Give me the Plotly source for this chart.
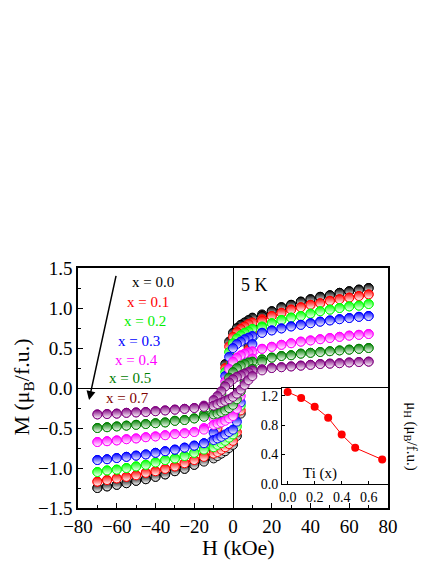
import plotly.graph_objects as go

# ---------------- data ----------------
H_down = [70, 65, 60, 55, 50, 45, 40, 35, 30, 25, 20, 15, 10, 8, 6, 4, 2, 0, -2, -4, -6, -8, -10,
          -15, -20, -25, -30, -35, -40, -45, -50, -55, -60, -65, -70]
H_up = [-70, -65, -60, -55, -50, -45, -40, -35, -30, -25, -20, -15, -10, -8, -6, -4, -2, 0, 2, 4, 6, 8, 10,
        15, 20, 25, 30, 35, 40, 45, 50, 55, 60, 65, 70]

labels = ["x = 0.0", "x = 0.1", "x = 0.2", "x = 0.3", "x = 0.4", "x = 0.5", "x = 0.7"]

M00_down = [1.25, 1.23, 1.21, 1.19, 1.16, 1.14, 1.11, 1.08, 1.04, 1.01, 0.96, 0.92, 0.88,
            0.85, 0.82, 0.79, 0.75, 0.69, 0.58, 0.30, -0.15, -0.55, -0.78,
            -0.90, -0.96, -1.01, -1.04, -1.08, -1.11, -1.14, -1.16, -1.19, -1.21, -1.23, -1.25]
M00_up = [-1.25, -1.23, -1.21, -1.19, -1.16, -1.14, -1.11, -1.08, -1.04, -1.01, -0.96, -0.92, -0.88,
          -0.85, -0.82, -0.79, -0.75, -0.71, -0.60, -0.32, 0.12, 0.52, 0.76,
          0.90, 0.96, 1.01, 1.04, 1.08, 1.11, 1.14, 1.16, 1.19, 1.21, 1.23, 1.25]

M01_down = [1.17, 1.15, 1.13, 1.11, 1.09, 1.06, 1.04, 1.01, 0.98, 0.94, 0.90, 0.86, 0.82,
            0.80, 0.77, 0.74, 0.70, 0.64, 0.52, 0.25, -0.15, -0.50, -0.72,
            -0.84, -0.90, -0.94, -0.98, -1.01, -1.04, -1.06, -1.09, -1.11, -1.13, -1.15, -1.17]
M01_up = [-1.17, -1.15, -1.13, -1.11, -1.09, -1.06, -1.04, -1.01, -0.98, -0.94, -0.90, -0.86, -0.82,
          -0.80, -0.77, -0.74, -0.70, -0.66, -0.55, -0.28, 0.12, 0.48, 0.70,
          0.84, 0.90, 0.94, 0.98, 1.01, 1.04, 1.06, 1.09, 1.11, 1.13, 1.15, 1.17]

M02_down = [1.05, 1.03, 1.02, 1.00, 0.98, 0.96, 0.93, 0.90, 0.88, 0.85, 0.81, 0.77, 0.74,
            0.71, 0.69, 0.66, 0.62, 0.56, 0.45, 0.20, -0.15, -0.45, -0.65,
            -0.76, -0.81, -0.85, -0.88, -0.90, -0.93, -0.96, -0.98, -1.00, -1.02, -1.03, -1.05]
M02_up = [-1.05, -1.03, -1.02, -1.00, -0.98, -0.96, -0.93, -0.90, -0.88, -0.85, -0.81, -0.77, -0.74,
          -0.71, -0.69, -0.66, -0.62, -0.58, -0.48, -0.22, 0.12, 0.43, 0.63,
          0.76, 0.81, 0.85, 0.88, 0.90, 0.93, 0.96, 0.98, 1.00, 1.02, 1.03, 1.05]

M03_down = [0.90, 0.89, 0.875, 0.86, 0.845, 0.83, 0.81, 0.79, 0.77, 0.745, 0.72, 0.69, 0.65,
            0.63, 0.61, 0.58, 0.55, 0.50, 0.39, 0.15, -0.15, -0.40, -0.56,
            -0.69, -0.72, -0.745, -0.77, -0.79, -0.81, -0.83, -0.845, -0.86, -0.875, -0.89, -0.90]
M03_up = [-0.90, -0.89, -0.875, -0.86, -0.845, -0.83, -0.81, -0.79, -0.77, -0.745, -0.72, -0.69, -0.65,
          -0.63, -0.61, -0.58, -0.55, -0.52, -0.42, -0.18, 0.12, 0.38, 0.55,
          0.69, 0.72, 0.745, 0.77, 0.79, 0.81, 0.83, 0.845, 0.86, 0.875, 0.89, 0.90]

M04_down = [0.675, 0.665, 0.655, 0.64, 0.625, 0.61, 0.595, 0.58, 0.56, 0.54, 0.515, 0.49, 0.46,
            0.445, 0.43, 0.41, 0.38, 0.33, 0.24, 0.08, -0.12, -0.28, -0.38,
            -0.50, -0.55, -0.565, -0.575, -0.59, -0.605, -0.615, -0.63, -0.64, -0.655, -0.665, -0.675]
M04_up = [-0.675, -0.665, -0.655, -0.64, -0.63, -0.615, -0.605, -0.59, -0.575, -0.565, -0.55, -0.52, -0.46,
          -0.445, -0.43, -0.41, -0.38, -0.35, -0.26, -0.10, 0.10, 0.26, 0.37,
          0.49, 0.515, 0.54, 0.56, 0.58, 0.595, 0.61, 0.625, 0.64, 0.655, 0.665, 0.675]

M05_down = [0.50, 0.49, 0.48, 0.47, 0.46, 0.45, 0.44, 0.43, 0.41, 0.40, 0.38, 0.36, 0.33,
            0.32, 0.30, 0.28, 0.25, 0.20, 0.13, 0.03, -0.08, -0.18, -0.25,
            -0.33, -0.38, -0.40, -0.41, -0.43, -0.44, -0.45, -0.46, -0.47, -0.48, -0.49, -0.50]
M05_up = [-0.50, -0.49, -0.48, -0.47, -0.46, -0.45, -0.44, -0.43, -0.41, -0.40, -0.38, -0.36, -0.33,
          -0.32, -0.30, -0.28, -0.25, -0.21, -0.14, -0.04, 0.07, 0.17, 0.24,
          0.33, 0.38, 0.40, 0.41, 0.43, 0.44, 0.45, 0.46, 0.47, 0.48, 0.49, 0.50]

M07_down = [0.33, 0.325, 0.32, 0.31, 0.305, 0.30, 0.29, 0.28, 0.27, 0.26, 0.25, 0.235, 0.22,
            0.20, 0.18, 0.16, 0.14, 0.11, 0.07, 0.02, -0.04, -0.10, -0.15,
            -0.22, -0.25, -0.26, -0.27, -0.28, -0.29, -0.30, -0.305, -0.31, -0.32, -0.325, -0.33]
M07_up = [-0.33, -0.325, -0.32, -0.31, -0.305, -0.30, -0.29, -0.28, -0.27, -0.26, -0.25, -0.235, -0.22,
          -0.20, -0.18, -0.16, -0.14, -0.11, -0.07, -0.02, 0.04, 0.10, 0.15,
          0.22, 0.25, 0.26, 0.27, 0.28, 0.29, 0.30, 0.305, 0.31, 0.32, 0.325, 0.33]

Ti_x = [0.0, 0.1, 0.2, 0.3, 0.4, 0.5, 0.7]
mu_H = [1.25, 1.17, 1.05, 0.90, 0.67, 0.49, 0.33]

main_xticks = [-80, -60, -40, -20, 0, 20, 40, 60, 80]
main_yticks = [-1.5, -1.0, -0.5, 0.0, 0.5, 1.0, 1.5]
inset_xticks = [0.0, 0.2, 0.4, 0.6]
inset_yticks = [0.0, 0.4, 0.8, 1.2]

# ---------------- styles ----------------
FONT = "Liberation Serif"
series = [
    (M00_down, M00_up, "#000000", "#000000"),
    (M01_down, M01_up, "#FF0000", "#FF0000"),
    (M02_down, M02_up, "#00FF00", "#00EE00"),
    (M03_down, M03_up, "#0000FF", "#0000FF"),
    (M04_down, M04_up, "#FF00FF", "#FF00FF"),
    (M05_down, M05_up, "#008000", "#008000"),
    (M07_down, M07_up, "#800080", "#800000"),
]

fig = go.Figure()
for (mdown, mup, col, lcol), lab in zip(series, labels):
    fig.add_trace(go.Scatter(
        x=H_down + H_up, y=mdown + mup, mode="lines+markers", name=lab,
        line=dict(color=col, width=0.8),
        marker=dict(symbol="circle", size=9, color=col,
                    line=dict(color=col, width=1),
                    gradient=dict(type="vertical", color="white")),
        showlegend=False, xaxis="x", yaxis="y"))

fig.add_trace(go.Scatter(
    x=Ti_x, y=mu_H, mode="lines+markers",
    line=dict(color="#FF0000", width=1),
    marker=dict(symbol="circle", size=8, color="#FF0000"),
    showlegend=False, xaxis="x2", yaxis="y2"))

axis_common = dict(showline=True, linecolor="black", linewidth=1.5, mirror=True,
                   ticks="inside", ticklen=5, tickwidth=1.2, tickcolor="black",
                   showgrid=False, automargin=False,
                   tickfont=dict(family=FONT, size=19, color="black"))

# the page body adds an 8px offset; the figure is sized so the plot area lands at
# x 78..388, y 268..508 in the 436x564 window
fig.update_layout(
    width=428, height=556,
    margin=dict(l=70, r=48, t=260, b=56),
    paper_bgcolor="white", plot_bgcolor="white",
    font=dict(family=FONT, color="black"),
    xaxis=dict(range=[-80, 80], tickvals=main_xticks, domain=[0, 1],
               zeroline=True, zerolinecolor="black", zerolinewidth=1,
               minor=dict(ticks="inside", ticklen=3, dtick=10, tickcolor="black"),
               **axis_common),
    yaxis=dict(range=[-1.5, 1.5], tickvals=main_yticks, tickformat=".1f", domain=[0, 1],
               zeroline=True, zerolinecolor="black", zerolinewidth=1,
               minor=dict(ticks="inside", ticklen=3, dtick=0.25, tickcolor="black"),
               **axis_common),
    xaxis2=dict(domain=[0.658, 1.0], anchor="y2", range=[-0.042, 0.743],
                tickvals=inset_xticks, tickformat=".1f", zeroline=False,
                showline=True, linecolor="black", linewidth=1, mirror=True,
                ticks="inside", ticklen=3, tickcolor="black", showgrid=False, automargin=False,
                tickfont=dict(family=FONT, size=14, color="black")),
    yaxis2=dict(domain=[0.101, 0.5], anchor="x2", range=[0, 1.305],
                tickvals=inset_yticks, tickformat=".1f", zeroline=False,
                showline=True, linecolor="black", linewidth=1, mirror=True,
                ticks="inside", ticklen=3, tickcolor="black", showgrid=False, automargin=False,
                tickfont=dict(family=FONT, size=14, color="black")),
)

# axis titles
fig.add_annotation(x=0.519, y=-0.165, xref="paper", yref="paper", text="H (kOe)",
                   xanchor="center", yanchor="middle",
                   showarrow=False, font=dict(family=FONT, size=22, color="black"))
fig.add_annotation(x=-0.178, y=0.505, xref="paper", yref="paper",
                   text="M (μ<sub>B</sub>/f.u.)", textangle=-90,
                   xanchor="center", yanchor="middle",
                   showarrow=False, font=dict(family=FONT, size=22, color="black"))

# legend-like labels
label_pos = [(-41.4, 1.33), (-44.0, 1.08), (-45.6, 0.84), (-48.7, 0.59),
             (-49.7, 0.35), (-53.3, 0.12), (-54.3, -0.12)]
for (mdown, mup, col, lcol), lab, (ax_, ay_) in zip(series, labels, label_pos):
    fig.add_annotation(x=ax_, y=ay_, xref="x", yref="y", text=lab, showarrow=False,
                       font=dict(family=FONT, size=15, color=lcol))

fig.add_annotation(x=11.2, y=1.29, xref="x", yref="y", text="5 K", showarrow=False,
                   font=dict(family=FONT, size=18, color="black"))

fig.add_annotation(x=-74.3, y=-0.15, ax=-60.2, ay=1.42, xref="x", yref="y",
                   axref="x", ayref="y", text="", showarrow=True,
                   arrowhead=2, arrowsize=1.2, arrowwidth=1.5, arrowcolor="black")

fig.add_annotation(x=0.24, y=0.14, xref="x2", yref="y2", text="Ti (x)", showarrow=False,
                   font=dict(family=FONT, size=15, color="black"))

fig.add_annotation(x=1.076, y=0.297, xref="paper", yref="paper",
                   text="μ<sub>H</sub> (μ<sub>B</sub>/f.u.)", textangle=90,
                   xanchor="center", yanchor="middle", showarrow=False,
                   font=dict(family=FONT, size=15, color="black"))

fig.write_html("out.html")
